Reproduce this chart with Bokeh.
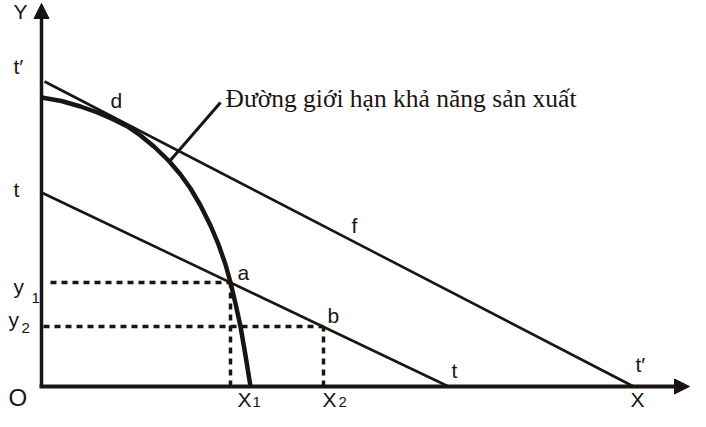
from bokeh.plotting import figure
from bokeh.models import Range1d, Arrow, NormalHead, ColumnDataSource
from bokeh.core.properties import value
from bokeh.embed import file_html
from bokeh.resources import INLINE

# ---- data (units: origin at 0,0) ----
# production possibility frontier
ppf_x = [0, 20, 39, 56, 72, 86, 99, 113, 127, 139, 149, 159, 169, 177, 184, 189, 194, 199, 204, 209]
ppf_y = [289, 285.5, 280, 274, 267, 260, 251, 239.5, 226, 212, 198, 181, 161, 142, 122, 104, 83, 60, 31, 0]

# line t (lower) and line t' (upper)
t_x = [0, 407]
t_y = [194, 0]
tp_x = [3, 592]
tp_y = [305, 0]

# points a and b
pt_x = [189, 282]
pt_y = [104, 60]
dash_start_x = [9, 2]

# axis extents
axis_x_max = 648
axis_y_max = 383

# leader line to the curve label
leader_x = [127, 179]
leader_y = [224, 284]

curve_label = "Đường giới hạn khả năng sản xuất"

p = figure(width=690, height=411, output_backend="svg", toolbar_location=None,
           x_range=Range1d(-41, 649), y_range=Range1d(-25, 386),
           min_border=0, min_border_left=0, min_border_right=0,
           min_border_top=0, min_border_bottom=0)
p.axis.visible = False
p.grid.visible = False
p.outline_line_color = None
p.background_fill_color = "white"
p.border_fill_color = "white"

ink = "#1a1413"

# dashed guide lines
p.segment(x0=dash_start_x, y0=pt_y, x1=pt_x, y1=pt_y, line_color=ink,
          line_width=3.5, line_dash="6 5")
p.segment(x0=pt_x, y0=[0, 0], x1=pt_x, y1=pt_y, line_color=ink,
          line_width=3.5, line_dash="6 5")

# straight lines t and t'
p.line(t_x, t_y, line_color=ink, line_width=2.6)
p.line(tp_x, tp_y, line_color=ink, line_width=2.6)

# PPF curve
p.line(ppf_x, ppf_y, line_color=ink, line_width=4.5, line_join="round")

# leader line
p.line(leader_x, leader_y, line_color=ink, line_width=3)

# axes with arrows
p.add_layout(Arrow(end=NormalHead(size=15, fill_color=ink, line_color=ink),
                   x_start=0, y_start=0, x_end=0, y_end=axis_y_max,
                   line_color=ink, line_width=3.5))
p.add_layout(Arrow(end=NormalHead(size=15, fill_color=ink, line_color=ink),
                   x_start=-2, y_start=0, x_end=axis_x_max, y_end=0,
                   line_color=ink, line_width=4))

# serif label of the curve
p.text(x=[leader_x[1] + 5], y=[leader_y[1] + 4], text=[curve_label],
       text_font=value("Liberation Serif"), text_font_size="25.5px",
       text_color=ink, text_align="left", text_baseline="middle")

# sans labels (main size), positioned by their vertical centre
lab = ColumnDataSource(dict(
    x=[-28, -28, -28, 69, 310, pt_x[0] + 7, pt_x[1] + 4, -28, -33, 196, 281, 410, 594, 589],
    y=[375, 320, 197, 286, 161, 114, 71, 100, 67, -13, -13, 16, 22, -13],
    text=["Y", "t′", "t", "d", "f", "a", "b", "y", "y", "X", "X", "t", "t′", "X"],
))
p.text(x="x", y="y", text="text", source=lab, text_font=value("Liberation Sans"),
       text_font_size="21px", text_color=ink, text_align="left",
       text_baseline="middle")

# subscripts
sub = ColumnDataSource(dict(
    x=[-10, -20, 211, 297],
    y=[89, 59, -15, -15],
    text=["1", "2", "1", "2"],
))
p.text(x="x", y="y", text="text", source=sub, text_font=value("Liberation Sans"),
       text_font_size="15px", text_color=ink, text_align="left",
       text_baseline="middle")

# origin
p.text(x=[-33], y=[-11], text=["O"], text_font=value("Liberation Sans"),
       text_font_size="24px", text_color=ink, text_align="left",
       text_baseline="middle")

open("out.html", "w").write(file_html(p, INLINE))
